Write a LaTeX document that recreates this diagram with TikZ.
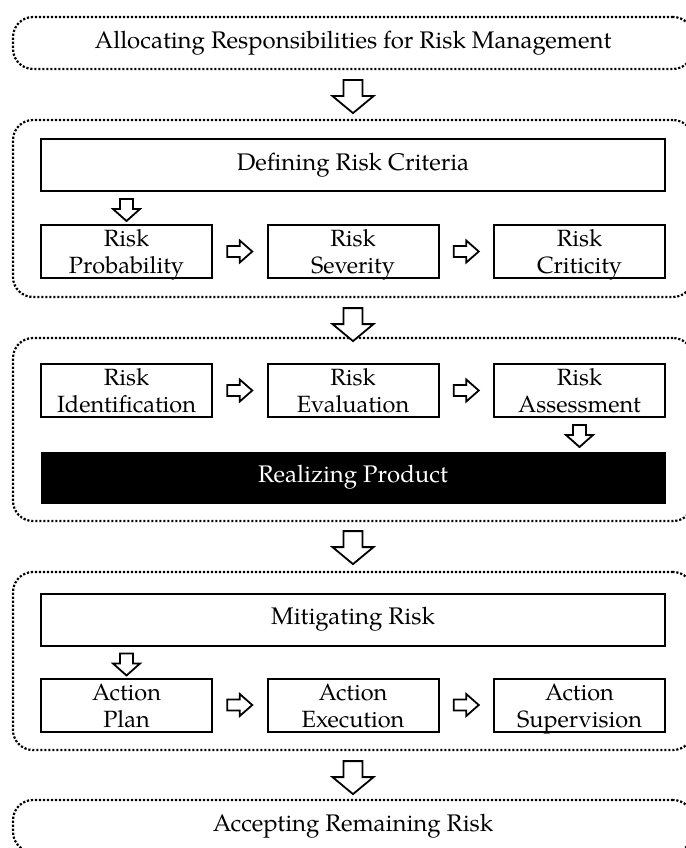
\documentclass[tikz,border=0pt]{standalone}
\usepackage{fontspec}
\setmainfont{TeX Gyre Pagella}
\usetikzlibrary{positioning,calc}
\newcommand{\twolines}[2]{\strut #1\\\strut #2}
\tikzset{
  grp/.style={draw, line width=2.2pt, dash pattern=on 2.2pt off 1.8pt, rounded corners=20pt, minimum width=680pt, inner sep=0pt},
  hdrfont/.style={font=\fontsize{24}{28}\selectfont},
  hdr/.style={draw, line width=2pt, minimum width=624pt, minimum height=52pt, inner sep=0pt, hdrfont},
  stepbox/.style={draw, line width=2pt, minimum width=171pt, minimum height=53pt, inner sep=0pt},
  steptext/.style={align=center, inner sep=0pt, yshift=-3.5pt, font=\fontsize{23.5}{27}\selectfont},
  blackbox/.style={fill=black, text=white, minimum width=625pt, minimum height=52pt, inner sep=0pt, hdrfont},
  bigdown/.pic={\draw[line width=1.8pt, fill=white] (-9.5,0) -- (9.5,0) -- (9.5,16) -- (20.5,16) -- (0,33) -- (-20.5,16) -- (-9.5,16) -- cycle;},
  smalldown/.pic={\draw[line width=1.8pt, fill=white] (-6.5,0) -- (6.5,0) -- (6.5,10) -- (13.5,10) -- (0,22) -- (-13.5,10) -- (-6.5,10) -- cycle;},
  smallright/.pic={\draw[line width=1.8pt, fill=white] (-12.5,-5.5) -- (0,-5.5) -- (0,-11) -- (12.5,0) -- (0,11) -- (0,5.5) -- (-12.5,5.5) -- cycle;}
}
\begin{document}
\begin{tikzpicture}[x=1pt,y=-1pt]
\useasboundingbox (0,0) rectangle (685,848);
% top
\node[grp, minimum height=52pt, hdrfont] (top) at (353,43) {Allocating Responsibilities for Risk Management};
% group 2
\node[grp, minimum height=177pt] (g2) at (353,208.5) {};
\node[hdr] (def) at (353,165) {Defining Risk Criteria};
\node[stepbox] (p1) at (126.5,251.5) {};
\node[stepbox] (p2) at (353,251.5) {};
\node[stepbox] (p3) at (579.5,251.5) {};
\node[steptext] (p1t) at (p1) {\twolines{Risk}{Probability}};
\node[steptext] (p2t) at (p2) {\twolines{Risk}{Severity}};
\node[steptext] (p3t) at (p3) {\twolines{Risk}{Criticity}};
% group 3
\node[grp, minimum height=183pt] (g3) at (353,429.5) {};
\node[stepbox] (r1) at (126.5,390.5) {};
\node[stepbox] (r2) at (353,390.5) {};
\node[stepbox] (r3) at (579.5,390.5) {};
\node[steptext] (r1t) at (r1) {\twolines{Risk}{Identification}};
\node[steptext] (r2t) at (r2) {\twolines{Risk}{Evaluation}};
\node[steptext] (r3t) at (r3) {\twolines{Risk}{Assessment}};
\node[blackbox] (rp) at (353,477.5) {Realizing Product};
% group 4
\node[grp, minimum height=178pt] (g4) at (353,661) {};
\node[hdr] (mit) at (353,619.5) {Mitigating Risk};
\node[stepbox] (a1) at (126.5,705) {};
\node[stepbox] (a2) at (353,705) {};
\node[stepbox] (a3) at (579.5,705) {};
\node[steptext] (a1t) at (a1) {\twolines{Action}{Plan}};
\node[steptext] (a2t) at (a2) {\twolines{Action}{Execution}};
\node[steptext] (a3t) at (a3) {\twolines{Action}{Supervision}};
% bottom
\node[grp, minimum height=52pt, hdrfont] (bot) at (353,826) {Accepting Remaining Risk};
% big arrows
\path (top.south) ++(0,10) pic{bigdown};
\path (g2.south) ++(0,10) pic{bigdown};
\path (g3.south) ++(0,9) pic{bigdown};
\path (g4.south) ++(0,10) pic{bigdown};
% small down arrows
\path (def.south -| p1) ++(0,7) pic{smalldown};
\path (r3.south) ++(0,7) pic{smalldown};
\path (mit.south -| a1) ++(0,7) pic{smalldown};
% small right arrows
\path ($(p1.east)!0.5!(p2.west)$) pic{smallright};
\path ($(p2.east)!0.5!(p3.west)$) pic{smallright};
\path ($(r1.east)!0.5!(r2.west)$) pic{smallright};
\path ($(r2.east)!0.5!(r3.west)$) pic{smallright};
\path ($(a1.east)!0.5!(a2.west)$) pic{smallright};
\path ($(a2.east)!0.5!(a3.west)$) pic{smallright};
\end{tikzpicture}
\end{document}
